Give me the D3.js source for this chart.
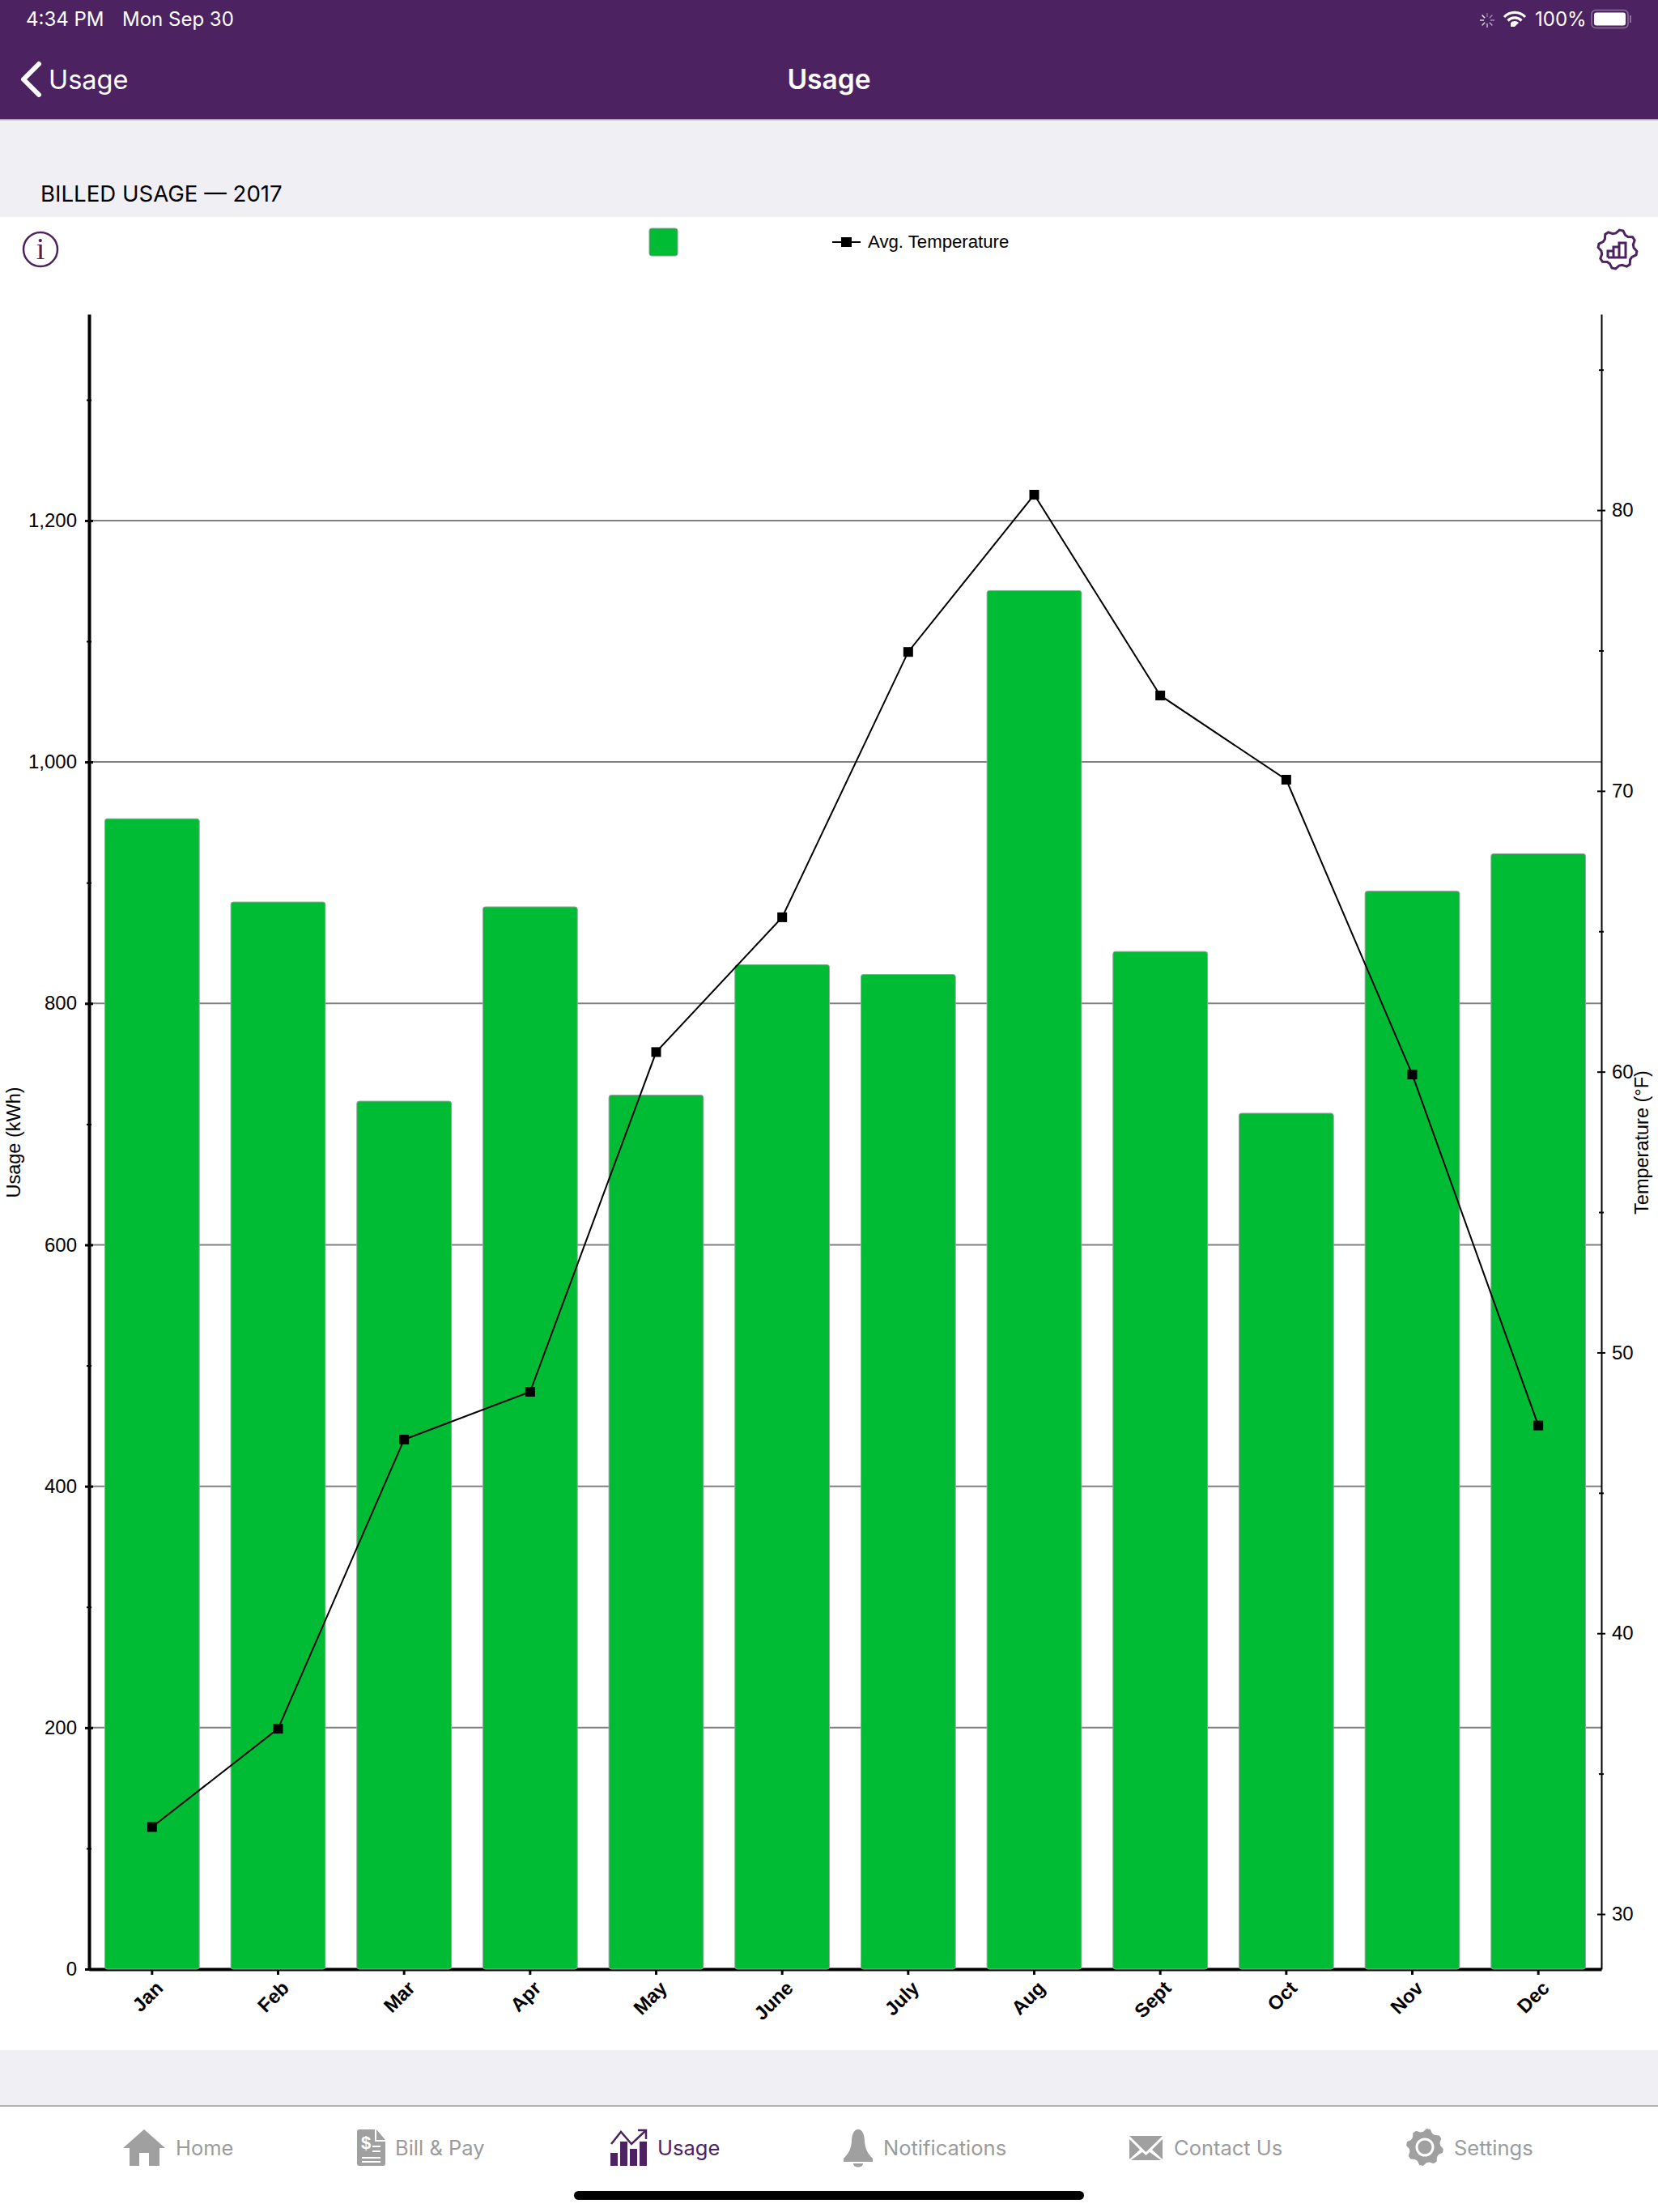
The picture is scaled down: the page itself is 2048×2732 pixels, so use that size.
<!DOCTYPE html>
<html>
<head>
<meta charset="utf-8">
<script src="https://cdn.jsdelivr.net/npm/d3@7"></script>
<style>
	html, body { margin: 0; padding: 0; background: #fff; }
	svg { display: block; }
	text { font-family: "Liberation Sans", Arial, sans-serif; }
	.ui { font-family: Inter, "Open Sans", sans-serif; }
	.axis path { stroke: #000; }
	.axis line { stroke: #000; }
	.axis text { font-family: "Liberation Sans", Arial, sans-serif; fill: #000; }
</style>
</head>
<body>
<div id="chart"></div>
<script>
const months = ["Jan", "Feb", "Mar", "Apr", "May", "June", "July", "Aug", "Sept", "Oct", "Nov", "Dec"];
const usageKwh = [953, 884, 719, 880, 724, 832, 824, 1142, 843, 709, 893, 924];
const avgTemperature = [33.1, 36.6, 46.9, 48.6, 60.7, 65.5, 74.95, 80.55, 73.4, 70.4, 59.9, 47.4];
const usageMajorTicks = [0, 200, 400, 600, 800, 1000, 1200];
const usageMinorTicks = [100, 300, 500, 700, 900, 1100, 1300];
const tempMajorTicks = [30, 40, 50, 60, 70, 80];
const tempMinorTicks = [35, 45, 55, 65, 75, 85];
const tabItems = ["Home", "Bill & Pay", "Usage", "Notifications", "Contact Us", "Settings"];

const outerwidth = 2048, outerheight = 2732;
const purple = "#4c2360", paleGrey = "#efeff4", green = "#00bc35", tabGrey = "#a0a0a0";

// plot area
const plotLeft = 110, plotRight = 1978, plotTop = 388, plotBottom = 2432;

const svg = d3.select("#chart").append("svg")
	.attr("width", outerwidth)
	.attr("height", outerheight);

// Page background bands
svg.append("rect").attr("width", outerwidth).attr("height", 148).attr("fill", purple);
svg.append("rect").attr("y", 148).attr("width", outerwidth).attr("height", 120).attr("fill", paleGrey);
svg.append("rect").attr("y", 147).attr("width", outerwidth).attr("height", 1.5).attr("fill", "#a9a5ad");
svg.append("rect").attr("y", 2532).attr("width", outerwidth).attr("height", 69).attr("fill", paleGrey);
svg.append("rect").attr("y", 2600).attr("width", outerwidth).attr("height", 2).attr("fill", "#b2b2b6");

// Status bar and nav bar
const uiText = (x, y, str, size, fill, weight, anchor) => svg.append("text")
	.attr("class", "ui")
	.attr("x", x).attr("y", y)
	.attr("font-size", size)
	.attr("fill", fill)
	.attr("font-weight", weight || 400)
	.attr("text-anchor", anchor || "start")
	.text(str);

uiText(32, 32, "4:34 PM", 24, "#fff");
uiText(151, 32, "Mon Sep 30", 24, "#fff");
uiText(1896, 32, "100%", 24, "#fff");
uiText(60, 110, "Usage", 32.5, "#fff");
uiText(1024, 110, "Usage", 33.5, "#fff", 600, "middle");
uiText(50, 249, "BILLED USAGE — 2017", 27.6, "#000");

svg.append("path").attr("d", "M48,79 L29,98 L48,117")
	.attr("fill", "none").attr("stroke", "#fff").attr("stroke-width", 6).attr("stroke-linecap", "round").attr("stroke-linejoin", "round");

// wifi, spinner, battery
const wifi = svg.append("g").attr("transform", "translate(1871,33)").attr("fill", "none").attr("stroke", "#fff").attr("stroke-width", 3.2);
wifi.append("path").attr("d", "M-13,-12 A18,18 0 0 1 13,-12");
wifi.append("path").attr("d", "M-8.5,-7.5 A12,12 0 0 1 8.5,-7.5");
wifi.append("path").attr("d", "M-5,0 L0,0 L5,-5 A7,7 0 0 0 -5,-5 Z").attr("fill", "#fff").attr("stroke", "none");
const spinner = svg.append("g").attr("transform", "translate(1837,25)").attr("stroke", "#fff").attr("stroke-width", 1.5);
d3.range(8).forEach(i => spinner.append("line")
	.attr("y1", -4).attr("y2", -9)
	.attr("opacity", 0.35 + i * 0.08)
	.attr("transform", `rotate(${i * 45})`));
svg.append("rect").attr("x", 1966).attr("y", 12.5).attr("width", 45).attr("height", 22).attr("rx", 5)
	.attr("fill", "none").attr("stroke", "#8b7396").attr("stroke-width", 1.5);
svg.append("rect").attr("x", 1969).attr("y", 15.5).attr("width", 39).attr("height", 16).attr("rx", 3).attr("fill", "#fff");
svg.append("rect").attr("x", 2013).attr("y", 19).attr("width", 2).attr("height", 9).attr("fill", "#8b7396");

// Info button
const info = svg.append("g").attr("transform", "translate(50,308)");
info.append("circle").attr("r", 21).attr("fill", "none").attr("stroke", purple).attr("stroke-width", 2.5);
info.append("text").attr("y", 12).attr("text-anchor", "middle").attr("font-size", 38)
	.attr("fill", purple).style("font-family", "'Liberation Serif', serif").text("i");

// Settings button: gear outline with small bars
const gearPath = teeth => {
	const pts = [];
	for (let i = 0; i < teeth * 4; i++) {
		const r = (i % 4 < 2) ? 1 : 0.84;
		const a = (i + 0.5) / (teeth * 4) * 2 * Math.PI;
		pts.push([r * Math.sin(a), -r * Math.cos(a)]);
	}
	return pts;
};
const gear = svg.append("g").attr("transform", "translate(1998,308)");
gear.append("polygon")
	.attr("points", gearPath(8).map(p => [p[0] * 24, p[1] * 24].join(",")).join(" "))
	.attr("fill", "none").attr("stroke", purple).attr("stroke-width", 3);
gear.append("path").attr("d", "M-12,10 V2 H-5 V10 M-5,10 V-3 H2 V10 M2,10 V-8 H10 V10 Z M-12,10 H10")
	.attr("fill", "none").attr("stroke", purple).attr("stroke-width", 3);

// Legend
svg.append("rect").attr("x", 802).attr("y", 282).attr("width", 35).attr("height", 34).attr("rx", 3)
	.attr("fill", green).attr("stroke", "#999").attr("stroke-width", 1);
svg.append("line").attr("x1", 1028).attr("x2", 1063).attr("y1", 299).attr("y2", 299).attr("stroke", "#000").attr("stroke-width", 2);
svg.append("rect").attr("x", 1039).attr("y", 293).attr("width", 13).attr("height", 12).attr("fill", "#000");
svg.append("text").attr("x", 1072).attr("y", 306).attr("font-size", 22.2).attr("fill", "#000").text("Avg. Temperature");

// Scales
const xscale = d3.scaleBand().domain(months).range([plotLeft, plotRight]).paddingInner(0.25).paddingOuter(0.125);
const yscale = d3.scaleLinear().domain([0, 1371]).range([plotBottom, plotTop]);
const tempScale = d3.scaleLinear().domain([28.04, 86.98]).range([plotBottom, plotTop]);

// Grid
svg.append("g").selectAll("line").data(usageMajorTicks.filter(d => d > 0)).enter().append("line")
	.attr("x1", plotLeft).attr("x2", plotRight)
	.attr("y1", d => yscale(d)).attr("y2", d => yscale(d))
	.attr("stroke", "#808080").attr("stroke-width", 2);

// Horizontal axis
const xaxis = svg.append("g").attr("class", "axis")
	.attr("transform", `translate(0,${plotBottom})`)
	.call(d3.axisBottom(xscale).tickSize(6).tickSizeOuter(0));
xaxis.select(".domain").attr("stroke-width", 4);
xaxis.selectAll(".tick line").attr("stroke-width", 3).attr("y1", 2).attr("y2", 7);
xaxis.selectAll(".tick text")
	.attr("font-size", 24)
	.attr("font-weight", 700)
	.attr("text-anchor", "end")
	.attr("x", 0).attr("y", 0).attr("dy", "0.35em")
	.attr("transform", "translate(9,19) rotate(-45)");

// Bars
svg.append("g").selectAll("rect").data(usageKwh).enter().append("rect")
	.attr("x", (d, i) => xscale(months[i]))
	.attr("y", d => yscale(d))
	.attr("width", xscale.bandwidth())
	.attr("height", d => plotBottom - yscale(d))
	.attr("rx", 3)
	.attr("fill", green)
	.attr("stroke", "#a0a0a0")
	.attr("stroke-width", 1);

// Left axis - usage
const leftAxis = svg.append("g").attr("class", "axis")
	.attr("transform", `translate(${plotLeft},0)`)
	.call(d3.axisLeft(yscale).tickValues(usageMajorTicks).tickFormat(d3.format(",")).tickSize(5).tickPadding(10).tickSizeOuter(0));
leftAxis.select(".domain").attr("stroke-width", 4);
leftAxis.selectAll(".tick line").attr("x1", -5).attr("x2", 5).attr("stroke-width", 3);
leftAxis.selectAll(".tick text").attr("font-size", 24);
const leftMinor = svg.append("g").attr("class", "axis")
	.attr("transform", `translate(${plotLeft},0)`)
	.call(d3.axisLeft(yscale).tickValues(usageMinorTicks).tickFormat("").tickSizeOuter(0));
leftMinor.select(".domain").remove();
leftMinor.selectAll(".tick line").attr("x1", -3).attr("x2", 3).attr("stroke-width", 2);

// Right axis - temperature
const rightAxis = svg.append("g").attr("class", "axis")
	.attr("transform", `translate(${plotRight},0)`)
	.call(d3.axisRight(tempScale).tickValues(tempMajorTicks).tickSize(5).tickPadding(8).tickSizeOuter(0));
rightAxis.select(".domain").attr("stroke-width", 2);
rightAxis.selectAll(".tick line").attr("x1", -5).attr("x2", 5).attr("stroke-width", 2);
rightAxis.selectAll(".tick text").attr("font-size", 24);
const rightMinor = svg.append("g").attr("class", "axis")
	.attr("transform", `translate(${plotRight},0)`)
	.call(d3.axisRight(tempScale).tickValues(tempMinorTicks).tickFormat("").tickSizeOuter(0));
rightMinor.select(".domain").remove();
rightMinor.selectAll(".tick line").attr("x1", -3).attr("x2", 3).attr("stroke-width", 2);

// Axis titles
svg.append("text").attr("transform", "translate(25,1411) rotate(-90)")
	.attr("text-anchor", "middle").attr("font-size", 23.5).attr("fill", "#000").text("Usage (kWh)");
svg.append("text").attr("transform", "translate(2036,1411) rotate(-90)")
	.attr("text-anchor", "middle").attr("font-size", 23.5).attr("fill", "#000").text("Temperature (°F)");

// Temperature line
const centerX = i => xscale(months[i]) + xscale.bandwidth() / 2;
svg.append("path").datum(avgTemperature)
	.attr("fill", "none")
	.attr("stroke", "#000")
	.attr("stroke-width", 2)
	.attr("d", d3.line().x((d, i) => centerX(i)).y(d => tempScale(d)));
svg.append("g").selectAll("rect").data(avgTemperature).enter().append("rect")
	.attr("x", (d, i) => centerX(i) - 6)
	.attr("y", d => tempScale(d) - 6)
	.attr("width", 12).attr("height", 12)
	.attr("fill", "#000");

// Tab bar
const tabX = [217, 488, 812, 1091, 1450, 1796];
tabItems.forEach((t, i) => uiText(tabX[i], 2662, t, 25.5, t == "Usage" ? purple : "#9b9b9b"));

// Tab icons
svg.append("path").attr("fill", tabGrey)
	.attr("d", "M178,2630 L204,2653 H197 V2675 H184 V2659 H172 V2675 H160 V2653 H152 Z");
svg.append("path").attr("fill", tabGrey)
	.attr("d", "M444,2630 L463,2630 L463,2645 L476,2645 L476,2672 Q476,2675 473,2675 L444,2675 Q441,2675 441,2672 L441,2633 Q441,2630 444,2630 Z M465,2630 L476,2643 L465,2643 Z");
const billLines = [[447, 2665, 470], [447, 2670, 470], [460, 2651, 470], [460, 2657, 470]];
billLines.forEach(l => svg.append("line").attr("x1", l[0]).attr("x2", l[2]).attr("y1", l[1]).attr("y2", l[1]).attr("stroke", "#fff").attr("stroke-width", 2));
svg.append("text").attr("x", 446).attr("y", 2654).attr("font-size", 22).attr("font-weight", 700).attr("fill", "#fff").text("$");

svg.append("path").attr("fill", purple)
	.attr("d", "M754,2659 H763 V2675 H754 Z M766,2645 H775 V2675 H766 Z M778,2654 H787 V2675 H778 Z M790,2645 H799 V2675 H790 Z");
svg.append("path").attr("fill", "none").attr("stroke", purple).attr("stroke-width", 2.5)
	.attr("d", "M755,2648 L767,2633 L780,2648 L797,2632 M788,2631 H798 V2642");

svg.append("path").attr("fill", tabGrey)
	.attr("d", "M1060,2630 C1066,2630 1068,2638 1068,2645 C1069,2655 1072,2660 1078,2666 V2670 H1042 V2666 C1048,2660 1051,2655 1052,2645 C1052,2638 1054,2630 1060,2630 Z M1054,2672 H1066 C1066,2678 1054,2678 1054,2672 Z");
svg.append("path").attr("fill", tabGrey)
	.attr("d", "M1395,2638 H1436 L1415.5,2658 Z M1395,2642 L1408,2655 L1395,2667 Z M1436,2642 L1423,2655 L1436,2667 Z M1411,2658 L1415.5,2662 L1420,2658 L1434,2668 H1397 Z");
const tabGear = svg.append("g").attr("transform", "translate(1760,2652)");
tabGear.append("polygon")
	.attr("points", gearPath(8).map(p => [p[0] * 23, p[1] * 23].join(",")).join(" "))
	.attr("fill", tabGrey);
tabGear.append("circle").attr("r", 10).attr("fill", "none").attr("stroke", "#fff").attr("stroke-width", 3);

// Home indicator
svg.append("rect").attr("x", 709).attr("y", 2706).attr("width", 630).attr("height", 11).attr("rx", 5.5).attr("fill", "#000");
</script>
</body>
</html>
